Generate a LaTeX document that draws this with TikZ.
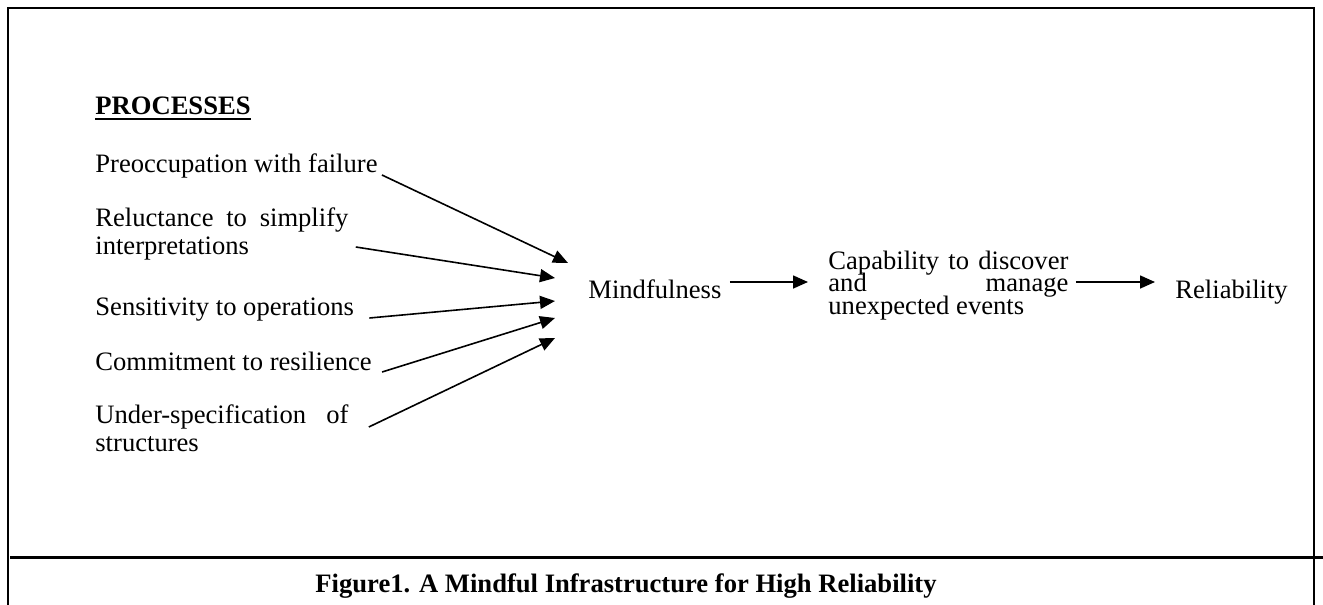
\documentclass[tikz,border=0pt]{standalone}
\usepackage{fontspec}
\setmainfont{Liberation Serif}
\usetikzlibrary{arrows.meta}
\newcommand{\tightlines}{\fontsize{13.3}{11.3}\selectfont\lineskiplimit=-20pt\relax}
\tikzset{
    frame/.style={black,line width=1pt},
    rule/.style={black,line width=1.5pt},
    flow/.style={-{Triangle[length=7.5pt,width=6.5pt]},line width=0.8pt},
    label/.style={anchor=base west,inner sep=0pt,font=\fontsize{13.3}{14}\selectfont},
    block/.style={label,text width=126.5pt,align=justify},
    stage/.style={label,text width=120pt,align=justify,font=\tightlines}
}

\begin{document}
\begin{tikzpicture}[x=0.5pt,y=-0.5pt]
\useasboundingbox(0,0)rectangle(1323,605);
\draw[frame](8,605)--(8,8)--(1314,8)--(1314,605);
\draw[rule](10,557)--(1323,557);
% processes
\node[label](head)at(95,114){\textbf{PROCESSES}};
\draw[line width=1.2pt]([yshift=-2.6pt]head.base west)--([yshift=-2.6pt]head.base east);
\node[label](p1)at(95,172){Preoccupation with failure};
\node[block](p2)at(95,226){Reluctance to simplify\linebreak interpretations};
\node[label](p3)at(95,315){Sensitivity to operations};
\node[label](p4)at(95,370){Commitment to resilience};
\node[block](p5)at(95,423){Under-specification of\linebreak structures};
% outcomes
\node[label](mind)at(588,298){Mindfulness};
\node[stage](cap)at(828,269){Capability to discover\linebreak and manage\linebreak unexpected events};
\node[label](rel)at(1175,298){Reliability};
\coordinate(in1)at([shift={(-10pt,17.5pt)}]mind.base west);
\coordinate(in2)at([shift={(-16.5pt,10pt)}]mind.base west);
\coordinate(in3)at([shift={(-16.5pt,-1.5pt)}]mind.base west);
\coordinate(in4)at([shift={(-16.5pt,-10pt)}]mind.base west);
\coordinate(in5)at([shift={(-16.5pt,-20pt)}]mind.base west);
\draw[flow]([shift={(2pt,-1.5pt)}]p1.base east)--(in1);
\draw[flow]([shift={(3.5pt,-10.5pt)}]p2.base east)--(in2);
\draw[flow]([shift={(7.5pt,-1.5pt)}]p3.base east)--(in3);
\draw[flow]([shift={(5pt,-1pt)}]p4.base east)--(in4);
\draw[flow]([shift={(10pt,-2pt)}]p5.base east)--(in5);
\draw[flow]([shift={(4pt,8pt)}]mind.base east)--([shift={(-10pt,-6.5pt)}]cap.base west);
\draw[flow]([shift={(3.5pt,-6.5pt)}]cap.base east)--([shift={(-10pt,8pt)}]rel.base west);
% caption
\node[label,anchor=base,font=\fontsize{13.3}{14}\selectfont\bfseries](title)at(626,592){Figure1. A Mindful Infrastructure for High Reliability};
\end{tikzpicture}
\end{document}
